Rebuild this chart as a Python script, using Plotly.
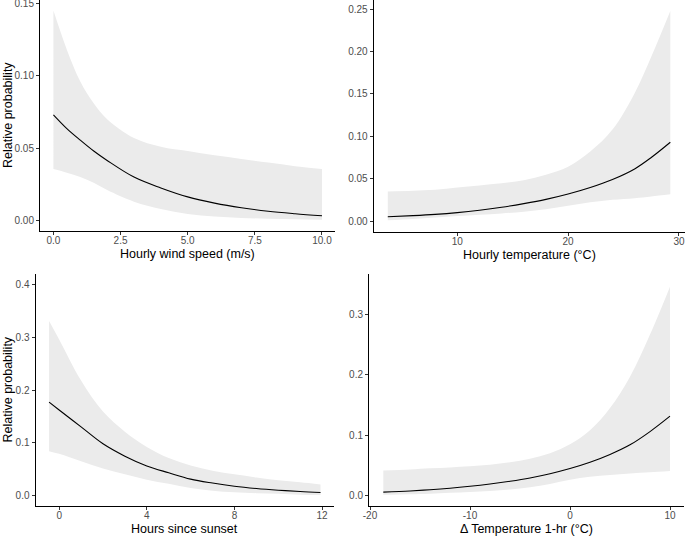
import plotly.graph_objects as go

# --- data (x, fitted line, ribbon lower/upper) ---
wind_x = [0, 0.5, 1, 1.5, 2, 3, 4, 5, 6, 7, 8, 9, 10]
wind_fit = [0.073, 0.0635, 0.0555, 0.048, 0.0415, 0.030, 0.0225, 0.0163, 0.012, 0.0088, 0.0064, 0.0047, 0.0033]
wind_lo = [0.0355, 0.033, 0.030, 0.026, 0.021, 0.013, 0.008, 0.0045, 0.0028, 0.0018, 0.0012, 0.0008, 0.0005]
wind_hi = [0.145, 0.118, 0.096, 0.081, 0.070, 0.057, 0.051, 0.048, 0.045, 0.0425, 0.040, 0.0375, 0.0355]

temp_x = [3.73, 6, 8, 10, 12, 14, 16, 18, 20, 22, 24, 26, 27.5, 29.22]
temp_fit = [0.005, 0.0063, 0.0078, 0.0099, 0.0127, 0.0162, 0.0205, 0.0255, 0.0318, 0.0395, 0.049, 0.0615, 0.075, 0.093]
temp_lo = [0.0008, 0.0025, 0.004, 0.0058, 0.0075, 0.009, 0.011, 0.014, 0.018, 0.022, 0.025, 0.027, 0.029, 0.0315]
temp_hi = [0.0348, 0.0358, 0.037, 0.0395, 0.042, 0.0445, 0.048, 0.0545, 0.064, 0.082, 0.108, 0.151, 0.194, 0.248]

sun_x = [-0.46, 0, 1, 2, 3, 4, 5, 6, 7, 8, 9, 10, 11, 11.93]
sun_fit = [0.177, 0.162, 0.130, 0.098, 0.0745, 0.056, 0.043, 0.031, 0.0235, 0.0175, 0.0132, 0.010, 0.0075, 0.0057]
sun_lo = [0.084, 0.079, 0.065, 0.051, 0.040, 0.030, 0.022, 0.014, 0.009, 0.006, 0.0043, 0.003, 0.0015, 0.0008]
sun_hi = [0.331, 0.296, 0.218, 0.159, 0.121, 0.092, 0.071, 0.057, 0.047, 0.040, 0.034, 0.029, 0.025, 0.021]

dt_x = [-18.67, -16, -14, -12, -10, -8, -6, -4, -2, 0, 2, 4, 6, 8, 10]
dt_fit = [0.0055, 0.0075, 0.0095, 0.012, 0.0152, 0.019, 0.0235, 0.029, 0.036, 0.0446, 0.055, 0.068, 0.084, 0.106, 0.1316]
dt_lo = [0.001, 0.002, 0.003, 0.0045, 0.0058, 0.0075, 0.0098, 0.0135, 0.019, 0.026, 0.031, 0.034, 0.0365, 0.0385, 0.0407]
dt_hi = [0.0413, 0.043, 0.045, 0.0465, 0.0484, 0.051, 0.055, 0.061, 0.070, 0.0848, 0.108, 0.145, 0.197, 0.267, 0.3465]

W, H = 685, 538
FONT = "Liberation Sans, Arial, sans-serif"
RIBBON = "rgb(235,235,235)"

panels = [
    # x, fit, lo, hi, x title, xrange, xticks, xlabels, yrange, yticks, ylabels, x px, y px
    (wind_x, wind_fit, wind_lo, wind_hi, "Hourly wind speed (m/s)",
     [-0.5, 10.5], [0, 2.5, 5, 7.5, 10], ["0.0", "2.5", "5.0", "7.5", "10.0"],
     [-0.00725, 0.1523], [0, 0.05, 0.10, 0.15], ["0.00", "0.05", "0.10", "0.15"],
     (40, 335.4), (0, 231)),
    (temp_x, temp_fit, temp_lo, temp_hi, "Hourly temperature (°C)",
     [2.46, 30.5], [10, 20, 30], ["10", "20", "30"],
     [-0.0124, 0.261], [0, 0.05, 0.10, 0.15, 0.20, 0.25],
     ["0.00", "0.05", "0.10", "0.15", "0.20", "0.25"],
     (373.7, 684.5), (0, 231.5)),
    (sun_x, sun_fit, sun_lo, sun_hi, "Hours since sunset",
     [-1.08, 12.55], [0, 4, 8, 12], ["0", "4", "8", "12"],
     [-0.02, 0.42], [0, 0.1, 0.2, 0.3, 0.4], ["0.0", "0.1", "0.2", "0.3", "0.4"],
     (35.5, 334.1), (274, 506)),
    (dt_x, dt_fit, dt_lo, dt_hi, "Δ Temperature 1-hr (°C)",
     [-20.1, 11.43], [-20, -10, 0, 10], ["-20", "-10", "0", "10"],
     [-0.0175, 0.3675], [0, 0.1, 0.2, 0.3], ["0.0", "0.1", "0.2", "0.3"],
     (369, 684.3), (274, 506)),
]

fig = go.Figure()
annotations = []
layout = {}

for i, (x, fit, lo, hi, xt, xr, xtv, xtt, yr, ytv, ytt, xpx, ypx) in enumerate(panels, start=1):
    xa = "x" if i == 1 else f"x{i}"
    ya = "y" if i == 1 else f"y{i}"
    fig.add_trace(go.Scatter(x=x, y=lo, mode="lines", line=dict(width=0, shape="spline"),
                             xaxis=xa, yaxis=ya, showlegend=False, hoverinfo="skip"))
    fig.add_trace(go.Scatter(x=x, y=hi, mode="lines", line=dict(width=0, shape="spline"),
                             fill="tonexty", fillcolor=RIBBON,
                             xaxis=xa, yaxis=ya, showlegend=False, hoverinfo="skip"))
    fig.add_trace(go.Scatter(x=x, y=fit, mode="lines", line=dict(color="black", width=1.1, shape="spline"),
                             xaxis=xa, yaxis=ya, showlegend=False))

    xdom = [xpx[0] / W, xpx[1] / W]
    ydom = [1 - ypx[1] / H, 1 - ypx[0] / H]
    axis_common = dict(showgrid=False, zeroline=False, showline=True, linecolor="black", linewidth=1,
                       ticks="outside", ticklen=3, tickwidth=1, tickcolor="#333333",
                       automargin=False, ticklabeloverflow="allow",
                       tickfont=dict(family=FONT, size=10, color="#4D4D4D"))
    layout["xaxis" if i == 1 else f"xaxis{i}"] = dict(
        domain=xdom, range=xr, tickvals=xtv, ticktext=xtt, anchor=ya,
        ticklabelstandoff=-3, **axis_common)
    layout["yaxis" if i == 1 else f"yaxis{i}"] = dict(
        domain=ydom, range=yr, tickvals=ytv, ticktext=ytt, anchor=xa, **axis_common)

    annotations.append(dict(text=xt, xref="paper", yref="paper",
                            x=(xdom[0] + xdom[1]) / 2, y=1 - (ypx[1] + 23) / H,
                            xanchor="center", yanchor="middle", showarrow=False,
                            font=dict(family=FONT, size=12.5, color="black")))
    if i in (1, 3):
        annotations.append(dict(text="Relative probability", xref="paper", yref="paper",
                                x=7.5 / W, y=(ydom[0] + ydom[1]) / 2, textangle=-90,
                                xanchor="center", yanchor="middle", showarrow=False,
                                font=dict(family=FONT, size=12.5, color="black")))

fig.update_layout(width=W, height=H, margin=dict(l=0, r=0, t=0, b=0, autoexpand=False),
                  plot_bgcolor="white", paper_bgcolor="white",
                  annotations=annotations, **layout)

# page body has a default 8px margin; remove it so the figure sits at the window origin
fig.write_html("out.html", config={"displayModeBar": False},
               post_script="document.body.style.margin='0px';")
